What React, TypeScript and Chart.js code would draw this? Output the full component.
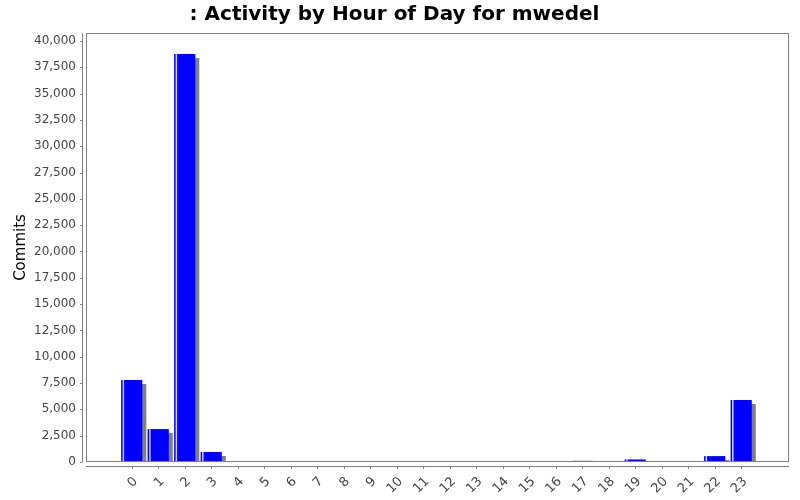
import React, { useEffect, useRef } from "react";
import { Chart, registerables } from "chart.js";

Chart.register(...registerables);

const hours = [
  "0", "1", "2", "3", "4", "5", "6", "7", "8", "9", "10", "11",
  "12", "13", "14", "15", "16", "17", "18", "19", "20", "21", "22", "23",
];
const commits = [
  7790, 3130, 38760, 950, 40, 0, 0, 0, 0, 0, 0, 0,
  0, 0, 0, 15, 30, 110, 30, 240, 20, 30, 560, 5890,
];
const yTicks = [
  0, 2500, 5000, 7500, 10000, 12500, 15000, 17500, 20000,
  22500, 25000, 27500, 30000, 32500, 35000, 37500, 40000,
];

const FONT = "'DejaVu Sans', sans-serif";

// shadows, left highlight stripe, plot outline and offset axes (JFreeChart look)
const jfreeLook = {
  id: "jfreeLook",
  beforeDatasetsDraw(chart: any) {
    const { ctx, chartArea: a } = chart;
    ctx.save();
    ctx.beginPath();
    ctx.rect(a.left, a.top, a.right - a.left, a.bottom - a.top);
    ctx.clip();
    ctx.fillStyle = "#808080";
    chart.getDatasetMeta(0).data.forEach((bar: any) => {
      const { x, y, base, width } = bar.getProps(["x", "y", "base", "width"], true);
      if (base - y <= 0) return;
      ctx.fillRect(x - width / 2 + 4, y + 4, width, base - y);
    });
    ctx.restore();
  },
  afterDatasetsDraw(chart: any) {
    const { ctx, chartArea: a, scales } = chart;
    ctx.save();
    ctx.fillStyle = "rgba(215,215,255,0.95)";
    chart.getDatasetMeta(0).data.forEach((bar: any) => {
      const { x, y, base, width } = bar.getProps(["x", "y", "base", "width"], true);
      if (base - y < 2) return;
      ctx.fillRect(x - width / 2 + 1.5, y, 1.5, base - y);
    });

    ctx.strokeStyle = "#808080";
    ctx.lineWidth = 1;
    ctx.strokeRect(Math.round(a.left) + 0.5, Math.round(a.top) + 0.5,
      Math.round(a.right - a.left) - 1, Math.round(a.bottom - a.top) - 1);

    // y axis
    const yx = Math.round(a.left) - 3.5;
    ctx.beginPath();
    ctx.moveTo(yx, a.top);
    ctx.lineTo(yx, a.bottom);
    yTicks.forEach((v) => {
      const py = Math.round(scales.y.getPixelForValue(v)) + 0.5;
      ctx.moveTo(yx - 2.5, py);
      ctx.lineTo(yx, py);
    });
    // x axis
    const xy = Math.round(a.bottom) + 4.5;
    ctx.moveTo(a.left, xy);
    ctx.lineTo(a.right, xy);
    hours.forEach((_, i) => {
      const px = Math.round(scales.x.getPixelForValue(i)) + 0.5;
      ctx.moveTo(px, xy);
      ctx.lineTo(px, xy + 2.5);
    });
    ctx.stroke();
    ctx.restore();
  },
};

const App: React.FC = () => {
  const canvasRef = useRef<HTMLCanvasElement | null>(null);
  const chartRef = useRef<Chart | null>(null);

  useEffect(() => {
    if (!canvasRef.current) return;
    if (chartRef.current) chartRef.current.destroy();
    const ctx = canvasRef.current.getContext("2d");
    if (!ctx) return;

    chartRef.current = new Chart(ctx, {
      type: "bar",
      data: {
        datasets: [
          {
            label: "Commits",
            data: commits.map((v, i) => ({ x: i, y: v })),
            backgroundColor: "#0000ff",
            borderWidth: 0,
            categoryPercentage: 1,
            barPercentage: 0.8,
          },
        ],
      },
      options: {
        responsive: false,
        animation: false,
        layout: { padding: { left: 0, right: 11, top: 0, bottom: 0 } },
        plugins: {
          legend: { display: false },
          tooltip: { enabled: false },
          title: {
            display: true,
            text: ": Activity by Hour of Day for mwedel",
            color: "#000",
            font: { family: FONT, size: 20, weight: "bold" },
            padding: { top: 3, bottom: 6 },
          },
        },
        scales: {
          x: {
            type: "linear",
            offset: false,
            min: -1.725,
            max: 24.805,
            grid: { display: false, offset: false },
            border: { display: false },
            afterBuildTicks: (s: any) => {
              s.ticks = hours.map((_, i) => ({ value: i }));
            },
            afterFit: (s: any) => {
              s.height = 38;
            },
            ticks: {
              autoSkip: false,
              minRotation: 45,
              maxRotation: 45,
              padding: 4,
              labelOffset: 4,
              color: "#444",
              font: { family: FONT, size: 13 },
              callback: (v: any) => hours[v],
            },
          },
          y: {
            min: 0,
            max: 40760,
            grid: { display: false },
            border: { display: false },
            afterBuildTicks: (s: any) => {
              s.ticks = yTicks.map((v) => ({ value: v }));
            },
            afterFit: (s: any) => {
              s.width = 86;
            },
            ticks: {
              padding: 2,
              color: "#444",
              font: { family: FONT, size: 12 },
              callback: (v: any) => Number(v).toLocaleString("en-US"),
            },
            title: {
              display: true,
              text: "Commits",
              color: "#000",
              font: { family: FONT, size: 15 },
              padding: { top: 12, bottom: 0 },
            },
          },
        },
      },
      plugins: [jfreeLook],
    });

    return () => {
      if (chartRef.current) {
        chartRef.current.destroy();
        chartRef.current = null;
      }
    };
  }, []);

  return (
    <div style={{ position: "absolute", left: 0, top: 0, width: 800, height: 500, background: "#fff" }}>
      <canvas ref={canvasRef} width="800" height="500"></canvas>
    </div>
  );
};

export default App;
